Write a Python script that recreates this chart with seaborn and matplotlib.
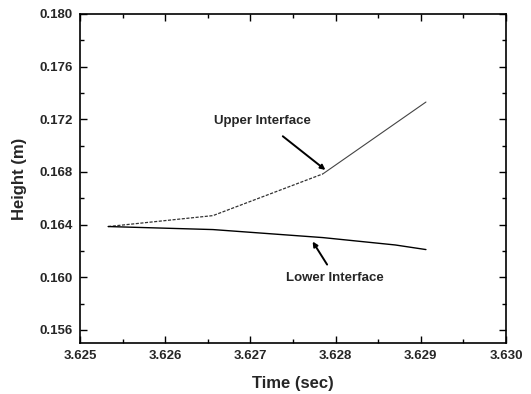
import matplotlib
matplotlib.use("Agg")
import matplotlib.pyplot as plt
import seaborn as sns
import pandas as pd
from matplotlib.ticker import MultipleLocator

sns.set_theme(style="ticks")
plt.rcParams['font.family'] = ['Liberation Sans', 'DejaVu Sans']

# Data
upper_time = [3.62533, 3.62656, 3.62785]
upper_height = [0.16385, 0.16468, 0.16785]
upper2_time = [3.62785, 3.62906]
upper2_height = [0.16785, 0.17331]
lower_time = [3.62533, 3.62656, 3.62785, 3.62870, 3.62906]
lower_height = [0.16385, 0.16362, 0.16301, 0.16245, 0.16210]

x_ticks = [3.625, 3.626, 3.627, 3.628, 3.629, 3.630]
y_ticks = [0.156, 0.160, 0.164, 0.168, 0.172, 0.176, 0.180]

fig = plt.figure(figsize=(5.31, 3.94), dpi=100)
ax = fig.add_axes([0.1507, 0.1294, 0.8023, 0.8351])

sns.lineplot(x=upper_time, y=upper_height, ax=ax, color='#333333', lw=0.9,
             linestyle=(0, (2.5, 1.2)), estimator=None, sort=False)
sns.lineplot(x=upper2_time, y=upper2_height, ax=ax, color='#444444', lw=0.8,
             estimator=None, sort=False)
sns.lineplot(x=lower_time, y=lower_height, ax=ax, color='black', lw=1.0,
             estimator=None, sort=False)

ax.set_xlim(3.625, 3.630)
ax.set_ylim(0.155, 0.180)
ax.set_xticks(x_ticks)
ax.set_yticks(y_ticks)
ax.set_xticklabels([f"{t:.3f}" for t in x_ticks])
ax.set_yticklabels([f"{t:.3f}" for t in y_ticks])
ax.xaxis.set_minor_locator(MultipleLocator(0.0005))
ax.yaxis.set_minor_locator(MultipleLocator(0.002))
ax.tick_params(which='both', direction='in', top=True, right=True, width=1.0, color='black')
ax.tick_params(which='major', length=5, labelsize=9.5, pad=5)
ax.tick_params(which='minor', length=3)
for lab in ax.get_xticklabels() + ax.get_yticklabels():
    lab.set_fontweight('bold')
for s in ax.spines.values():
    s.set_linewidth(1.2)
    s.set_color('black')

ax.set_xlabel("Time (sec)", fontsize=12, fontweight='bold', labelpad=10)
ax.set_ylabel("Height (m)", fontsize=12, fontweight='bold', labelpad=9)

ax.text(3.62714, 0.17185, "Upper Interface", fontsize=9.5, fontweight='bold',
        ha='center', va='center')
ax.text(3.62799, 0.15993, "Lower Interface", fontsize=9.5, fontweight='bold',
        ha='center', va='center')
arrow_kw = dict(arrowstyle='-|>', color='black', lw=1.4, mutation_scale=7,
                shrinkA=0, shrinkB=0)
ax.annotate("", xy=(3.62788, 0.16815), xytext=(3.62738, 0.17071), arrowprops=arrow_kw)
ax.annotate("", xy=(3.62773, 0.16271), xytext=(3.62790, 0.16096), arrowprops=arrow_kw)

fig.savefig("out.png", dpi=100)
